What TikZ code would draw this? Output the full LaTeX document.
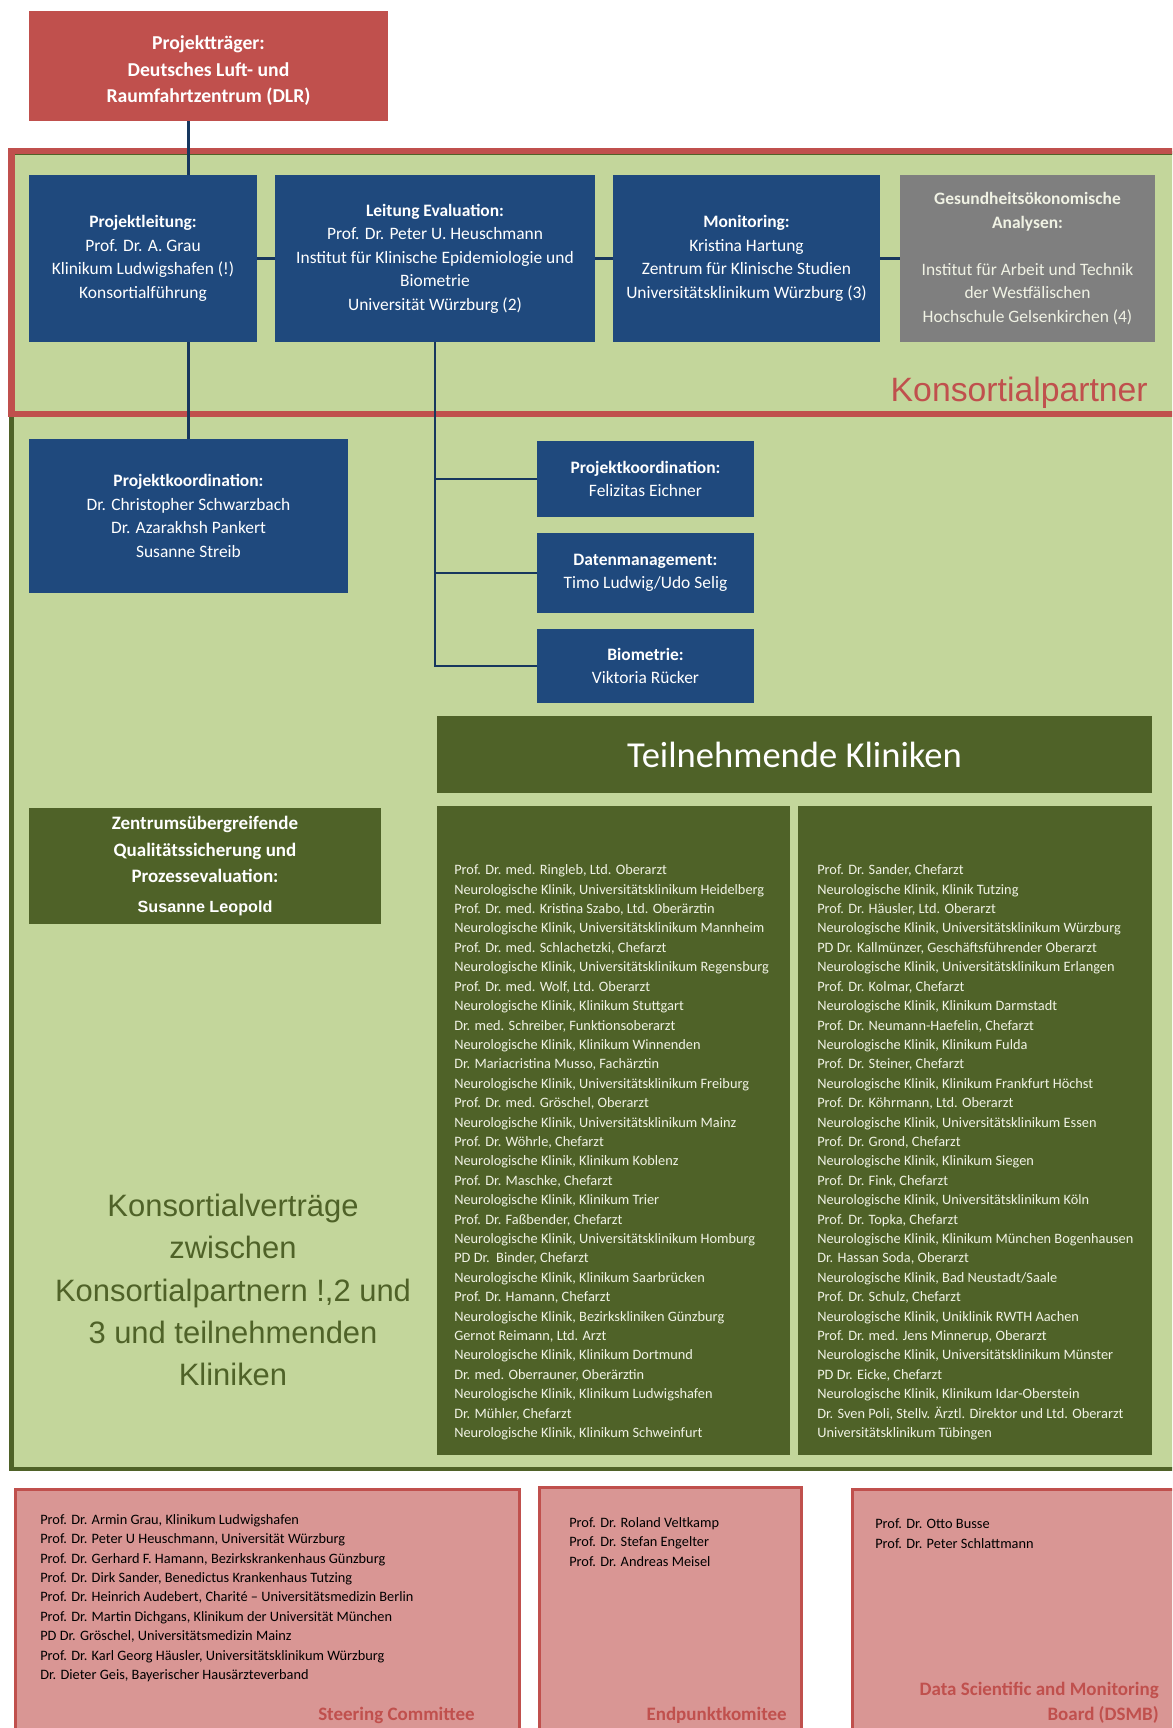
\documentclass[tikz,border=0pt]{standalone}
\usepackage{fontspec}
\setmainfont{Carlito}
\newfontfamily\arialfont{Liberation Sans}
\definecolor{dlrred}{HTML}{C0504D}
\definecolor{projblue}{HTML}{1F497D}
\definecolor{linkblue}{HTML}{17375E}
\definecolor{ecogray}{HTML}{7F7F7F}
\definecolor{lightolive}{HTML}{C3D69B}
\definecolor{darkolive}{HTML}{4F6228}
\definecolor{boardpink}{HTML}{D99694}
\definecolor{listwhite}{HTML}{F0F2E4}
\begin{document}
\begin{tikzpicture}[x=0.025cm,y=-0.025cm]
		\tikzset{redbox/.style = {shape=rectangle,fill=dlrred,text=white,align=center,inner sep=0pt,font=\bfseries\fontsize{14}{18.9}\selectfont}}
		\tikzset{bluebox/.style = {shape=rectangle,fill=projblue,text=white,align=center,inner sep=0pt,font=\fontsize{12.4}{16.7}\selectfont}}
		\tikzset{graybox/.style = {bluebox,fill=ecogray,text=listwhite}}
		\tikzset{olivebox/.style = {shape=rectangle,fill=darkolive,text=white,align=center,inner sep=0pt}}
		\tikzset{pinkbox/.style = {shape=rectangle,fill=boardpink,draw=dlrred,line width=2pt,inner sep=0pt}}
		\tikzset{listtext/.style = {anchor=north west,align=left,inner sep=0pt,font=\fontsize{10.2}{13.8}\selectfont}}
		\tikzset{boardtitle/.style = {anchor=east,align=right,inner sep=0pt,text=dlrred,font=\bfseries\fontsize{13.5}{17.8}\selectfont}}
		\tikzset{link/.style = {draw=linkblue,line width=1.6pt}}
		\useasboundingbox (0,0) rectangle (1172,1728);
		\clip (0,0) rectangle (1172,1728);
		\fill[white] (0,0) rectangle (1172,1728);
		% Rahmen
		\draw[fill=lightolive,draw=darkolive,line width=3.5pt] (11.5,153) rectangle (1190,1469);
		\draw[draw=dlrred,line width=4.3pt] (11.5,151) rectangle (1190,414);
		\node[anchor=base east,inner sep=0pt,text=dlrred,font=\arialfont\fontsize{24}{29}\selectfont] (kp) at (1148,401) {Konsortialpartner};
		% Boxen
		\node[redbox,minimum width=8.975cm,minimum height=2.75cm] (dlr) at (208.5,66) {\rule{0pt}{16.5pt}Projektträger:\\Deutsches Luft- und\\Raumfahrtzentrum (DLR)};
		\node[bluebox,minimum width=5.7cm,minimum height=4.175cm] (pl) at (143,258.5) {\textbf{Projektleitung:}\\Prof. Dr. A. Grau\\Klinikum Ludwigshafen (!)\\Konsortialführung};
		\node[bluebox,minimum width=8cm,minimum height=4.175cm] (le) at (435,258.5) {\textbf{Leitung Evaluation:}\\Prof. Dr. Peter U. Heuschmann\\Institut für Klinische Epidemiologie und\\Biometrie\\Universität Würzburg (2)};
		\node[bluebox,minimum width=6.675cm,minimum height=4.175cm] (mon) at (746.5,258.5) {\textbf{Monitoring:}\\Kristina Hartung\\Zentrum für Klinische Studien\\Universitätsklinikum Würzburg (3)};
		\node[graybox,minimum width=6.375cm,minimum height=4.175cm] (ges) at (1027.5,258.5) {\textbf{Gesundheitsökonomische}\\\textbf{Analysen:}\\[16.7pt]Institut für Arbeit und Technik\\der Westfälischen\\Hochschule Gelsenkirchen (4)};
		\node[bluebox,minimum width=7.975cm,minimum height=3.85cm] (pk) at (188.5,516) {\textbf{Projektkoordination:}\\Dr. Christopher Schwarzbach\\Dr. Azarakhsh Pankert\\Susanne Streib};
		\node[bluebox,minimum width=5.425cm,minimum height=1.9cm] (pkw) at (645.5,479) {\textbf{Projektkoordination:}\\Felizitas Eichner};
		\node[bluebox,minimum width=5.425cm,minimum height=2cm] (dm) at (645.5,573) {\textbf{Datenmanagement:}\\Timo Ludwig/Udo Selig};
		\node[bluebox,minimum width=5.425cm,minimum height=1.85cm] (bio) at (645.5,666) {\textbf{Biometrie:}\\Viktoria Rücker};
		% Verbindungen
		\path[link] (dlr.south -| pk.north) edge (pl.north -| pk.north);
		\path[link] (pl.south -| pk.north) edge (pk.north);
		\path[link] (pl.east) edge (le.west);
		\path[link] (le.east) edge (mon.west);
		\path[link] (mon.east) edge (ges.west);
		\draw[link] (le.south) |- (bio.west);
		\path[link] (le.south |- pkw.west) edge (pkw.west);
		\path[link] (le.south |- dm.west) edge (dm.west);
		% Kliniken
		\node[olivebox,minimum width=17.875cm,minimum height=1.925cm,font=\fontsize{26}{31}\selectfont] (tk) at (794.5,754.5) {Teilnehmende Kliniken};
		\node[olivebox,minimum width=8.8cm,minimum height=2.9cm,font=\bfseries\fontsize{13.5}{19}\selectfont] (qs) at (205,866) {Zentrumsübergreifende\\Qualitätssicherung und\\Prozessevaluation:\\[2pt]{\arialfont\fontsize{11.5}{14}\selectfont Susanne Leopold}};
		\node[olivebox,minimum width=8.825cm,minimum height=16.225cm] (kl) at (613.5,1130.5) {};
		\node[olivebox,minimum width=8.85cm,minimum height=16.225cm] (kr) at (975,1130.5) {};
		\node[listtext,text=listwhite] (kltext) at (454,864.5) {Prof. Dr. med. Ringleb, Ltd. Oberarzt\\Neurologische Klinik, Universitätsklinikum Heidelberg\\Prof. Dr. med. Kristina Szabo, Ltd. Oberärztin\\Neurologische Klinik, Universitätsklinikum Mannheim\\Prof. Dr. med. Schlachetzki, Chefarzt\\Neurologische Klinik, Universitätsklinikum Regensburg\\Prof. Dr. med. Wolf, Ltd. Oberarzt\\Neurologische Klinik, Klinikum Stuttgart\\Dr. med. Schreiber, Funktionsoberarzt\\Neurologische Klinik, Klinikum Winnenden\\Dr. Mariacristina Musso, Fachärztin\\Neurologische Klinik, Universitätsklinikum Freiburg\\Prof. Dr. med. Gröschel, Oberarzt\\Neurologische Klinik, Universitätsklinikum Mainz\\Prof. Dr. Wöhrle, Chefarzt\\Neurologische Klinik, Klinikum Koblenz\\Prof. Dr. Maschke, Chefarzt\\Neurologische Klinik, Klinikum Trier\\Prof. Dr. Faßbender, Chefarzt\\Neurologische Klinik, Universitätsklinikum Homburg\\PD Dr.\ \ Binder, Chefarzt\\Neurologische Klinik, Klinikum Saarbrücken\\Prof. Dr. Hamann, Chefarzt\\Neurologische Klinik, Bezirkskliniken Günzburg\\Gernot Reimann, Ltd. Arzt\\Neurologische Klinik, Klinikum Dortmund\\Dr. med. Oberrauner, Oberärztin\\Neurologische Klinik, Klinikum Ludwigshafen\\Dr. Mühler, Chefarzt\\Neurologische Klinik, Klinikum Schweinfurt};
		\node[listtext,text=listwhite] (krtext) at (817,864.5) {Prof. Dr. Sander, Chefarzt\\Neurologische Klinik, Klinik Tutzing\\Prof. Dr. Häusler, Ltd. Oberarzt\\Neurologische Klinik, Universitätsklinikum Würzburg\\PD Dr. Kallmünzer, Geschäftsführender Oberarzt\\Neurologische Klinik, Universitätsklinikum Erlangen\\Prof. Dr. Kolmar, Chefarzt\\Neurologische Klinik, Klinikum Darmstadt\\Prof. Dr. Neumann-Haefelin, Chefarzt\\Neurologische Klinik, Klinikum Fulda\\Prof. Dr. Steiner, Chefarzt\\Neurologische Klinik, Klinikum Frankfurt Höchst\\Prof. Dr. Köhrmann, Ltd. Oberarzt\\Neurologische Klinik, Universitätsklinikum Essen\\Prof. Dr. Grond, Chefarzt\\Neurologische Klinik, Klinikum Siegen\\Prof. Dr. Fink, Chefarzt\\Neurologische Klinik, Universitätsklinikum Köln\\Prof. Dr. Topka, Chefarzt\\Neurologische Klinik, Klinikum München Bogenhausen\\Dr. Hassan Soda, Oberarzt\\Neurologische Klinik, Bad Neustadt/Saale\\Prof. Dr. Schulz, Chefarzt\\Neurologische Klinik, Uniklinik RWTH Aachen\\Prof. Dr. med. Jens Minnerup, Oberarzt\\Neurologische Klinik, Universitätsklinikum Münster\\PD Dr. Eicke, Chefarzt\\Neurologische Klinik, Klinikum Idar-Oberstein\\Dr. Sven Poli, Stellv. Ärztl. Direktor und Ltd. Oberarzt\\Universitätsklinikum Tübingen};
		\node[align=center,inner sep=0pt,text=darkolive,font=\arialfont\fontsize{22}{30}\selectfont] (kv) at (233,1290) {Konsortialverträge\\zwischen\\Konsortialpartnern !,2 und\\3 und teilnehmenden\\Kliniken};
		% Gremien
		\node[pinkbox,minimum width=12.6cm,minimum height=6.5cm,anchor=north west] (sc) at (14,1488) {};
		\node[pinkbox,minimum width=6.55cm,minimum height=6.5cm,anchor=north west] (ek) at (538,1486) {};
		\node[pinkbox,minimum width=9cm,minimum height=6.5cm,anchor=north west] (dsmb) at (851,1488) {};
		\node[listtext] (sctext) at (40,1514) {Prof. Dr. Armin Grau, Klinikum Ludwigshafen\\Prof. Dr. Peter U Heuschmann, Universität Würzburg\\Prof. Dr. Gerhard F. Hamann, Bezirkskrankenhaus Günzburg\\Prof. Dr. Dirk Sander, Benedictus Krankenhaus Tutzing\\Prof. Dr. Heinrich Audebert, Charité – Universitätsmedizin Berlin\\Prof. Dr. Martin Dichgans, Klinikum der Universität München\\PD Dr. Gröschel, Universitätsmedizin Mainz\\Prof. Dr. Karl Georg Häusler, Universitätsklinikum Würzburg\\Dr. Dieter Geis, Bayerischer Hausärzteverband};
		\node[listtext] (ektext) at (569,1517) {Prof. Dr. Roland Veltkamp\\Prof. Dr. Stefan Engelter\\Prof. Dr. Andreas Meisel};
		\node[listtext] (dsmbtext) at (875,1518.5) {Prof. Dr. Otto Busse\\Prof. Dr. Peter Schlattmann};
		\node[boardtitle] (sctitle) at (475,1715) {Steering Committee};
		\node[boardtitle] (ektitle) at (787,1715) {Endpunktkomitee};
		\node[boardtitle] (dsmbtitle) at (1159,1703) {Data Scientific and Monitoring\\Board (DSMB)};
	\end{tikzpicture}
\end{document}
